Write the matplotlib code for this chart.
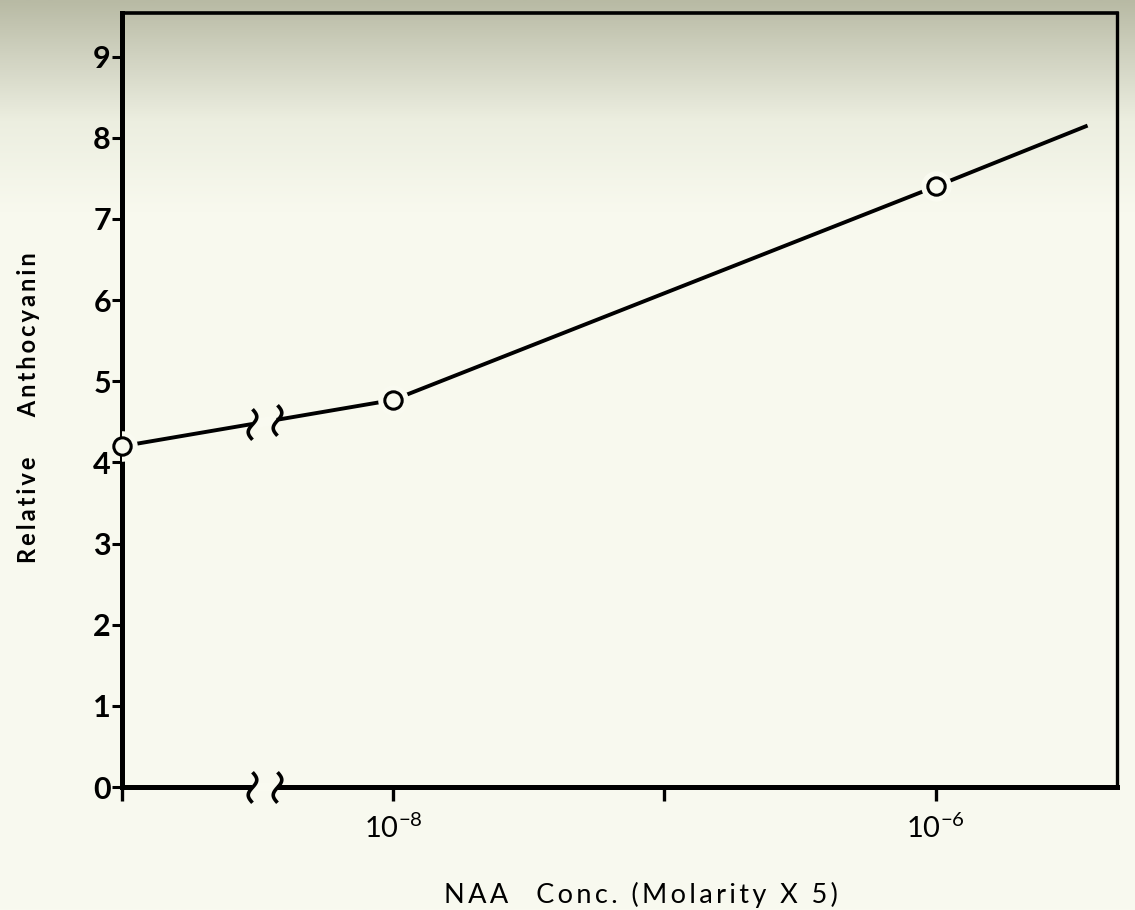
import numpy as np
import matplotlib.pyplot as plt
from matplotlib.path import Path

# NAA concentration (molarity x 5); 0 = control
conc = [0, 1e-8, 1e-6]
anthocyanin = [4.2, 4.77, 7.4]
# the drawn line runs on past the last point
line_end_conc = 10 ** -5.44
line_end_val = 8.15

y_ticks = list(range(10))
x_ticks = [-8, -7, -6]
x_ticklabels = ["10$^{-8}$", "", "10$^{-6}$"]

plt.rcParams["font.family"] = ["Lato", "DejaVu Sans"]
plt.rcParams["mathtext.default"] = "regular"

BG = (0.976, 0.980, 0.941)
XMIN, XMAX = -9.0, -5.33
BREAK = (-8.52, -8.43)


def to_x(c):
    # control sits at the left edge, the rest on a log scale
    return XMIN if c == 0 else np.log10(c)


def spaced(s, sep="\u2009"):
    # wide letter spacing, typewriter style
    return sep.join(s)


fig = plt.figure(figsize=(11.35, 9.10), dpi=100)

# paper tone, greyer toward the top of the sheet
bg = fig.add_axes([0, 0, 1, 1], zorder=-10)
rows = np.linspace(0, 910, 400)
stops_y = [0, 50, 120, 210, 910]
stops_c = np.array([[184, 186, 164], [206, 208, 190], [236, 238, 224],
                    [248, 249, 238], [249, 250, 240]]) / 255
grad = np.stack([np.interp(rows, stops_y, stops_c[:, k]) for k in range(3)], axis=-1)
bg.imshow(grad[:, None, :], aspect="auto", extent=[0, 1, 0, 1])
bg.axis("off")

ax = fig.add_axes([0.1075, 0.135, 0.877, 0.851])
ax.set_facecolor("none")

xs = [to_x(c) for c in conc]
ax.plot(xs + [np.log10(line_end_conc)], anthocyanin + [line_end_val],
        color="black", lw=2.8, solid_capstyle="butt", zorder=2)
# clear a ring round each point, then draw the open circles
ax.plot(xs, anthocyanin, ls="none", marker="o", ms=22, mfc=BG, mec="none", zorder=3)
ax.plot(xs, anthocyanin, ls="none", marker="o", ms=12.5, mfc=BG, mec="black", mew=2.2,
        zorder=4, clip_on=False)

# axis break: blank the gap in the line and in the x axis
line_y = np.interp(BREAK, xs[:2], anthocyanin[:2])
ax.plot(BREAK, line_y, color=BG, lw=7, solid_capstyle="butt", zorder=2.2)
ax.plot(BREAK, [0, 0], color=BG, lw=7, solid_capstyle="butt", zorder=2.7, clip_on=False)
t = np.linspace(-1, 1, 30)
squiggle = Path(np.column_stack([0.28 * np.sin(np.pi * t), t]))
for bx, by in zip(BREAK, line_y):
    for yy in (0, by):
        ax.plot([bx], [yy], marker=squiggle, ms=22, mfc="none", mec="black", mew=2.6,
                ls="none", zorder=5, clip_on=False)

ax.set_xlim(XMIN, XMAX)
ax.set_ylim(0, 9.54)

for side, w in (("left", 3.6), ("bottom", 3.6), ("top", 2.6), ("right", 2.4)):
    ax.spines[side].set_linewidth(w)

ax.set_yticks(y_ticks)
ax.set_yticklabels([str(v) for v in y_ticks], fontsize=22, fontweight="bold")
ax.tick_params(axis="y", direction="out", length=7, width=2.2, pad=1)

ax.set_xticks([XMIN] + x_ticks)
ax.set_xticklabels([""] + x_ticklabels, fontsize=21)
ax.tick_params(axis="x", direction="out", length=10, width=2.4, pad=9)

fig.text(0.025, 0.552, spaced("Relative") + "       " + spaced("Anthocyanin"),
         rotation=90, fontsize=17, fontweight="bold", ha="center", va="center")
fig.text(0.565, 0.0165, spaced("NAA") + "    " + spaced("Conc. (Molarity X 5)"),
         fontsize=19.5, ha="center", va="center")

fig.savefig("out.png", dpi=100)
